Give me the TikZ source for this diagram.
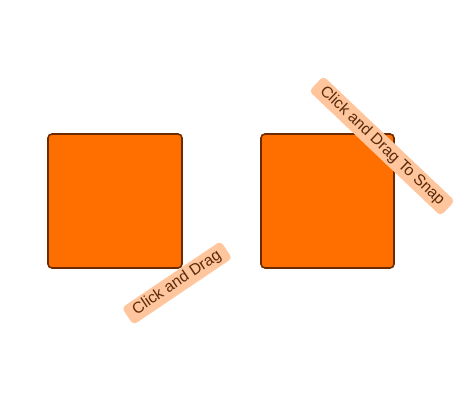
\documentclass[tikz,border=0pt]{standalone}
\usepackage{fontspec}
\setmainfont{Liberation Sans}
\definecolor{sqfill}{HTML}{FF6F00}
\definecolor{sqdraw}{HTML}{6B2A00}
\definecolor{lblfill}{HTML}{FFC59C}
\definecolor{lbltext}{HTML}{5A2A0A}
\begin{document}
\begin{tikzpicture}[x=0.75pt,y=-0.75pt,
  sq/.style={draw=sqdraw, fill=sqfill, line width=1.2pt, rounded corners=3pt},
  lbl/.style={fill=lblfill, text=lbltext, rounded corners=3pt, inner xsep=6pt, inner ysep=0pt, minimum height=15.5pt, font=\fontsize{11.8}{13}\selectfont}]
\useasboundingbox (0,0) rectangle (460,400);
\path[sq] (48,134) rectangle (182,268);
\path[sq] (261,134) rectangle (394,268);
\node[lbl, rotate=34] (l1) at (177,283) {Click and Drag};
\node[lbl, rotate=-43.5] (l2) at (382,146) {Click and Drag To Snap};
\end{tikzpicture}
\end{document}
